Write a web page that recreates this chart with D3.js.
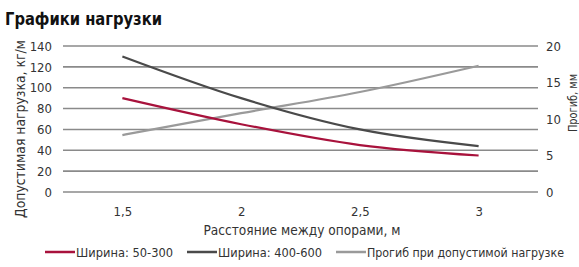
<!DOCTYPE html>
<html>
<head>
<meta charset="utf-8">
<script src="https://d3js.org/d3.v7.min.js"></script>
<style>
  body { margin: 0; background: #fff; }
  text { font-family: "DejaVu Sans Condensed", "Roboto", sans-serif; fill: #222; }
</style>
</head>
<body>
<svg id="chart" width="579" height="267"></svg>
<script>

var distances = ["1,5", "2", "2,5", "3"];
var width50 = [90, 65, 45, 35];
var width400 = [130, 90, 60, 44];
var deflection = [7.8, 10.8, 13.7, 17.3];
var leftTicks = [0, 20, 40, 60, 80, 100, 120, 140];
var rightTicks = [0, 5, 10, 15, 20];
var seriesNames = ["Ширина: 50-300", "Ширина: 400-600", "Прогиб при допустимой нагрузке"];

var svg = d3.select("#chart");

var plotLeft = 63, plotRight = 538, plotTop = 46, plotBottom = 192;

var x = d3.scalePoint().domain(distances).range([plotLeft, plotRight]).padding(0.5);
var y = d3.scaleLinear().domain([0, 140]).range([plotBottom, plotTop]);
var y2 = d3.scaleLinear().domain([0, 20]).range([plotBottom, plotTop]);

// title
svg.append("text")
    .attr("x", 5).attr("y", 25)
    .attr("textLength", 157).attr("lengthAdjust", "spacingAndGlyphs")
    .style("font-size", "18px").style("font-weight", "bold")
    .style("fill", "#111")
    .text("Графики нагрузки");

// gridlines
svg.append("g")
    .selectAll("line")
    .data(leftTicks)
    .enter().append("line")
    .attr("x1", plotLeft).attr("x2", plotRight)
    .attr("y1", function(d) { return y(d); })
    .attr("y2", function(d) { return y(d); })
    .attr("stroke", "#8a8a8a")
    .attr("stroke-width", 1.6);

// left axis
var ax = svg.append("g")
    .attr("transform", "translate(" + (plotLeft - 7) + ",0)")
    .call(d3.axisLeft(y).tickValues(leftTicks).tickSize(0).tickPadding(4));
ax.select(".domain").remove();
ax.selectAll("text").style("font-size", "13px").style("fill", "#333").style("font-family", null);

// right axis
var ax2 = svg.append("g")
    .attr("transform", "translate(" + (plotRight + 4) + ",0)")
    .call(d3.axisRight(y2).tickValues(rightTicks).tickSize(0).tickPadding(4));
ax2.select(".domain").remove();
ax2.selectAll("text").style("font-size", "13px").style("fill", "#333").style("font-family", null);

// bottom axis
var axb = svg.append("g")
    .attr("transform", "translate(0," + (plotBottom + 11) + ")")
    .call(d3.axisBottom(x).tickSize(0).tickPadding(4));
axb.select(".domain").remove();
axb.selectAll("text").style("font-size", "13px").style("fill", "#333").style("font-family", null);

// axis titles
svg.append("text")
    .attr("x", 302).attr("y", 235)
    .attr("text-anchor", "middle")
    .attr("textLength", 197).attr("lengthAdjust", "spacingAndGlyphs")
    .style("font-size", "14px").style("fill", "#333")
    .text("Расстояние между опорами, м");

svg.append("text")
    .attr("transform", "translate(25,129) rotate(-90)")
    .attr("text-anchor", "middle")
    .attr("textLength", 178).attr("lengthAdjust", "spacingAndGlyphs")
    .style("font-size", "14px").style("fill", "#333")
    .text("Допустимая нагрузка, кг/м");

svg.append("text")
    .attr("transform", "translate(577,103) rotate(-90)")
    .attr("text-anchor", "middle")
    .attr("textLength", 58).attr("lengthAdjust", "spacingAndGlyphs")
    .style("font-size", "13px").style("fill", "#333")
    .text("Прогиб, мм");

// lines
var colors = ["#a8123c", "#4a4a4a", "#9a9a9a"];
var lineL = d3.line()
    .x(function(d, i) { return x(distances[i]); })
    .y(function(d) { return y(d); })
    .curve(d3.curveMonotoneX);
var lineR = d3.line()
    .x(function(d, i) { return x(distances[i]); })
    .y(function(d) { return y2(d); })
    .curve(d3.curveMonotoneX);

svg.append("path").datum(deflection).attr("d", lineR)
    .attr("fill", "none").attr("stroke", colors[2]).attr("stroke-width", 2.2);
svg.append("path").datum(width400).attr("d", lineL)
    .attr("fill", "none").attr("stroke", colors[1]).attr("stroke-width", 2.2);
svg.append("path").datum(width50).attr("d", lineL)
    .attr("fill", "none").attr("stroke", colors[0]).attr("stroke-width", 2.2);

// legend
var legendX = [45, 187, 336];
var legendW = [97, 104, 197];
var legend = svg.append("g");
seriesNames.forEach(function(name, i) {
    legend.append("line")
        .attr("x1", legendX[i]).attr("x2", legendX[i] + 30)
        .attr("y1", 252).attr("y2", 252)
        .attr("stroke", colors[i]).attr("stroke-width", 2.5);
    legend.append("text")
        .attr("x", legendX[i] + 31).attr("y", 257)
        .attr("textLength", legendW[i]).attr("lengthAdjust", "spacingAndGlyphs")
        .style("font-size", "12.5px").style("fill", "#333")
        .text(name);
});

</script>
</body>
</html>
